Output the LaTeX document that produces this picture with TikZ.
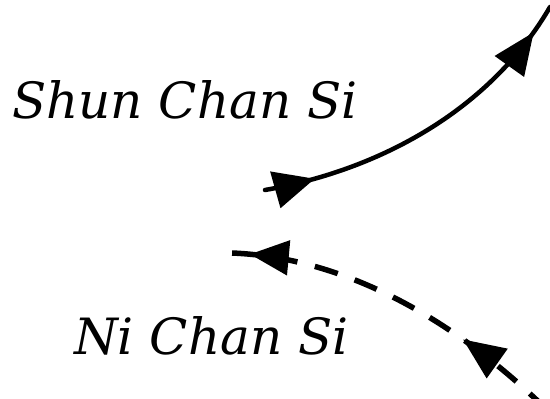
\documentclass[tikz,border=0pt]{standalone}
\usepackage{fontspec}
\newfontfamily\labelfont{DejaVu Serif}
\usetikzlibrary{arrows.meta,decorations.markings}
\tikzset{
  label text/.style={font=\labelfont\itshape\fontsize{50}{54}\selectfont, inner sep=0pt, anchor=base west},
  flow/.style={line width=4.5pt, line cap=round},
  backflow/.style={line width=5.5pt, dash pattern=on 24pt off 18pt, dash phase=3pt},
  headtip/.tip={Triangle[length=41pt,width=37pt]},
  longtip/.tip={Triangle[length=42pt,width=35pt]}
}
\begin{document}
\begin{tikzpicture}[x=1pt,y=-1pt]
  \useasboundingbox (0,0) rectangle (550,399);

  \node[label text] (shun) at (12,118) {Shun Chan Si};
  \node[label text] (ni) at (74,354) {Ni Chan Si};

  \coordinate (s0) at (265,190);
  \coordinate (s1) at (550,7);
  \coordinate (d0) at (545,408);
  \coordinate (d1) at (232,253);

  % solid sweep up to the right
  \draw[flow, postaction={decorate, decoration={markings,
      mark=at position 0.146 with {\arrow[solid]{headtip}},
      mark=at position 0.914 with {\arrow[solid]{longtip}}}}]
    (s0) .. controls (380,170) and (490,110) .. (s1);

  % dashed return to the left
  \draw[backflow, postaction={decorate, decoration={markings,
      mark=at position 0.30 with {\arrow[solid]{longtip}},
      mark=at position 0.95 with {\arrow[solid]{Triangle[length=39pt,width=34pt]}}}}]
    (d0) .. controls (465,330) and (355,258) .. (d1);
\end{tikzpicture}
\end{document}
